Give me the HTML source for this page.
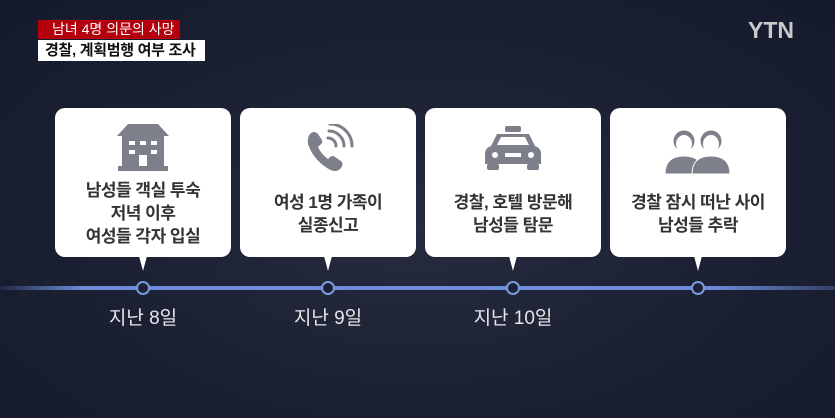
<!DOCTYPE html>
<html><head><meta charset="utf-8"><style>
*{margin:0;padding:0;box-sizing:border-box}
body{width:835px;height:418px;overflow:hidden;font-family:"Liberation Sans","Noto Sans CJK KR",sans-serif;
background:radial-gradient(ellipse at 50% 55%,#262b3d 0%,#1b2133 55%,#141a2b 100%);position:relative}
.red{position:absolute;left:38px;top:20px;width:142px;height:19px;background:#b3000c;color:#fff;font-size:14px;line-height:19px;padding-left:14px;white-space:nowrap;overflow:hidden}
.wh{position:absolute;left:38px;top:40px;width:167px;height:21px;background:#fff;color:#111;font-size:15px;line-height:21px;padding-left:7px;font-weight:bold;white-space:nowrap;overflow:hidden;letter-spacing:-0.3px}
.ytn{position:absolute;left:748px;top:17px;color:#c9c9cc;font-size:23px;font-weight:bold}
.card{position:absolute;top:108px;width:176px;height:149px;background:#fff;border-radius:10px;text-align:center;color:#333;font-weight:bold;font-size:17px;line-height:23px;white-space:nowrap;letter-spacing:-0.5px}
.card:after{content:"";position:absolute;left:84px;bottom:-14px;border-left:4px solid transparent;border-right:4px solid transparent;border-top:15px solid #fff}
.txt{position:absolute;left:0;right:0}
.icon{position:absolute;left:0;right:0;top:16px;height:50px}
.line{position:absolute;left:0;top:286px;width:835px;height:4px;background:linear-gradient(90deg,rgba(110,140,220,0.1),#6e8cdc 10%,#6e8cdc 85%,rgba(110,140,220,0.3))}
.dot{position:absolute;top:281px;width:14px;height:14px;border-radius:50%;background:#1c2234;border:2.5px solid #7a97e0}
.date{position:absolute;top:303px;width:120px;text-align:center;color:#e6e6ea;font-size:19px}
</style></head><body>
<div class="red">남녀 4명 의문의 사망</div>
<div class="wh">경찰, 계획범행 여부 조사</div>
<div class="ytn">YTN</div>

<div class="card" style="left:55px">
<svg class="icon" viewBox="0 0 176 50"><g fill="#7d808a"><polygon points="62,12 73,0 103,0 114,12"/><rect x="67" y="12" width="42" height="32"/><rect x="63" y="42" width="50" height="5"/></g>
<g fill="#fff"><rect x="74" y="17" width="6" height="4"/><rect x="85" y="17" width="6" height="4"/><rect x="96" y="17" width="6" height="4"/><rect x="74" y="26" width="6" height="4"/><rect x="96" y="26" width="6" height="4"/><rect x="84" y="31" width="8" height="11"/></g></svg>
<div class="txt" style="top:71px">남성들 객실 투숙<br>저녁 이후<br>여성들 각자 입실</div></div>

<div class="card" style="left:240px">
<svg class="icon" viewBox="0 0 176 50"><path d="M70,10 q4,-4 8,0 l4,6 q1,3 -2,5 l-2,2 q3,7 10,12 l2,-2 q3,-2 5,0 l6,4 q3,3 0,7 q-5,6 -14,0 q-14,-9 -19,-24 q-1,-6 2,-10z" fill="#7d808a"/>
<g fill="none" stroke="#7d808a" stroke-width="3" stroke-linecap="round"><path d="M88,14 a8,8 0 0 1 8,8"/><path d="M89,7 a15,15 0 0 1 15,15"/><path d="M90,0 a22,22 0 0 1 22,22"/></g></svg>
<div class="txt" style="top:83px">여성 1명 가족이<br>실종신고</div></div>

<div class="card" style="left:425px">
<svg class="icon" viewBox="0 0 176 50"><g fill="#7d808a"><rect x="80" y="2" width="16" height="6" rx="2"/><path d="M66,22 l6,-12 h32 l6,12 q6,2 6,8 v10 h-56 v-10 q0,-6 6,-8z"/><rect x="62" y="40" width="12" height="6" rx="2"/><rect x="102" y="40" width="12" height="6" rx="2"/></g>
<g fill="#fff"><path d="M72,21 l4,-8 h24 l4,8z"/><circle cx="70" cy="31" r="3"/><circle cx="106" cy="31" r="3"/><rect x="80" y="29" width="16" height="4"/></g></svg>
<div class="txt" style="top:83px">경찰, 호텔 방문해<br>남성들 탐문</div></div>

<div class="card" style="left:610px">
<svg class="icon" viewBox="0 0 176 50"><g fill="#7d808a" stroke="#fff" stroke-width="1"><circle cx="74" cy="17" r="11"/><path d="M55,50 q0,-18 19,-18 q19,0 19,18z"/><circle cx="101" cy="17" r="11"/><path d="M82,50 q0,-18 19,-18 q19,0 19,18z"/></g>
<g fill="#fff"><ellipse cx="74" cy="20" rx="8" ry="9"/><ellipse cx="101" cy="20" rx="8" ry="9"/></g></svg>
<div class="txt" style="top:83px">경찰 잠시 떠난 사이<br>남성들 추락</div></div>

<div class="line"></div>
<div class="dot" style="left:136px"></div>
<div class="dot" style="left:321px"></div>
<div class="dot" style="left:506px"></div>
<div class="dot" style="left:691px"></div>
<div class="date" style="left:83px">지난 8일</div>
<div class="date" style="left:268px">지난 9일</div>
<div class="date" style="left:453px">지난 10일</div>
</body></html>
